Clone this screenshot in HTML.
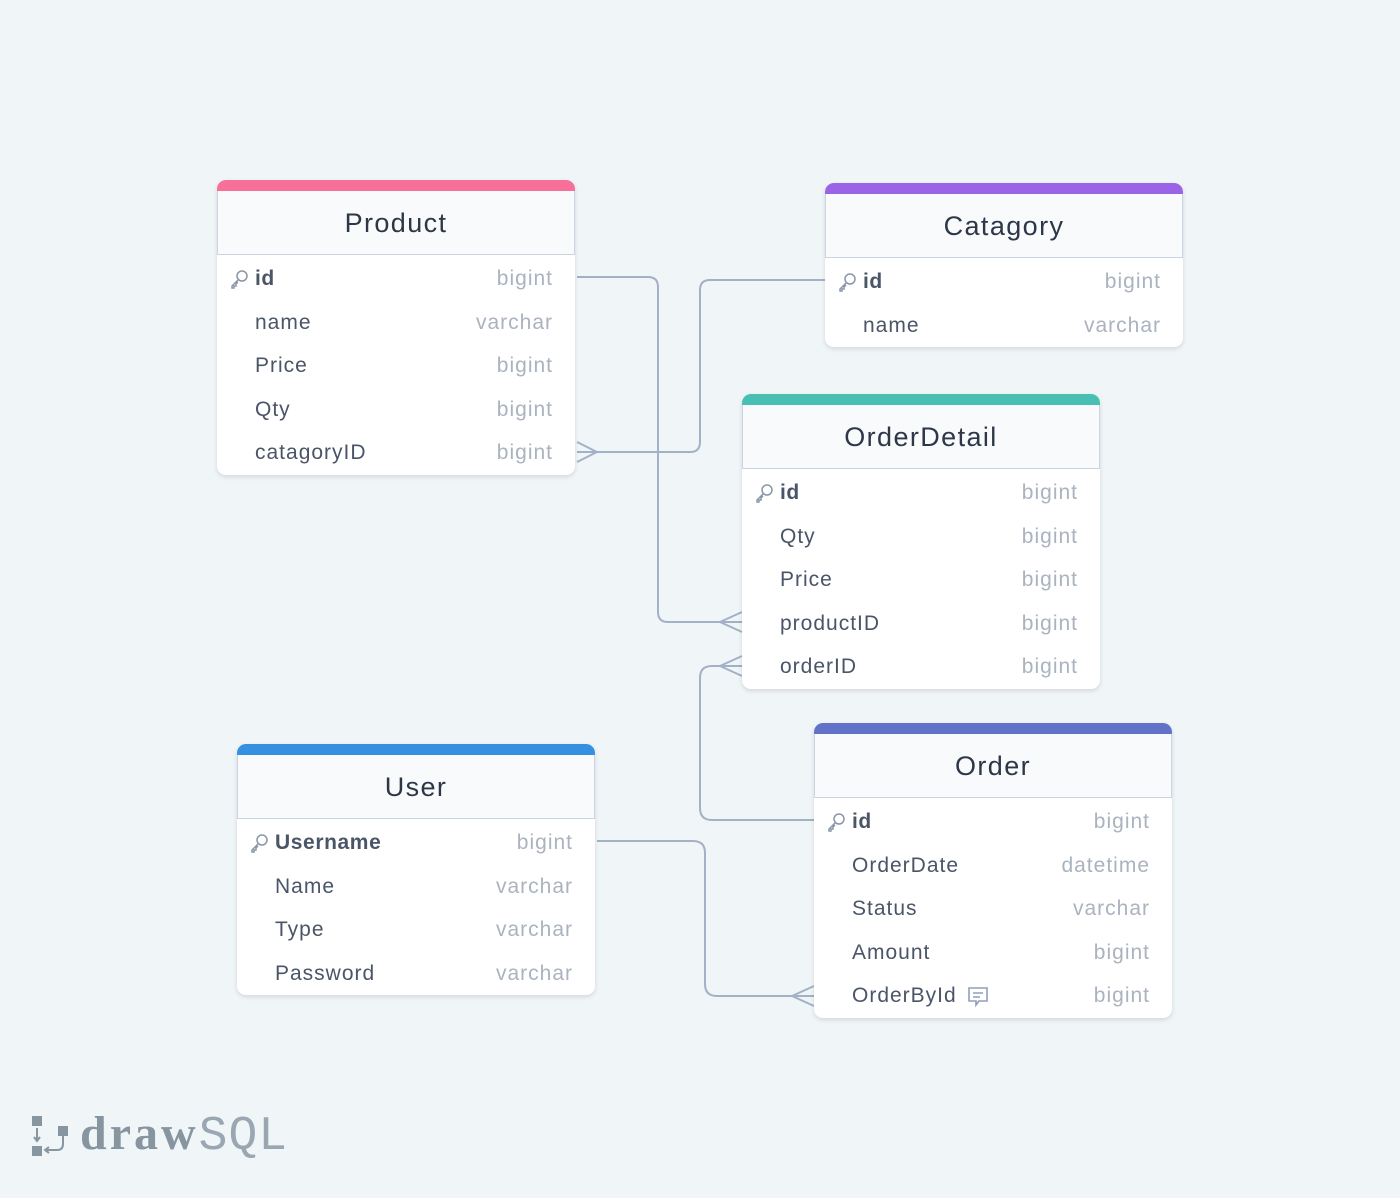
<!DOCTYPE html>
<html><head><meta charset="utf-8"><style>
body{margin:0;width:1400px;height:1198px;background:#f0f5f8;position:relative;overflow:hidden;font-family:"Liberation Sans",sans-serif}
.t{position:absolute;width:358px;background:#fff;border-radius:9px;box-shadow:0 2px 5px rgba(0,0,0,0.12);overflow:hidden}
.bar{height:11px}
.h{background:#f8fafc;border:1px solid #cbd5e1;border-top:none;box-sizing:border-box;height:64px;text-align:center;line-height:64px;font-size:27px;color:#2d3748;letter-spacing:1.4px}
.b{padding-top:2px}
.r{height:43.5px;line-height:43.5px;position:relative;font-size:21px;letter-spacing:1px}
.n{position:absolute;left:38px;color:#4a5568}
.ty{position:absolute;right:22px;color:#aab3bf}
.k{font-weight:bold;letter-spacing:0.6px}
.key{position:absolute;left:12px;top:12px}
svg.c{position:absolute;left:0;top:0}
</style></head><body>
<svg class="c" width="1400" height="1198" fill="none" stroke="#a3b1c6" stroke-width="2">
<path d="M577 277 H648 q10 0 10 10 V612 q0 10 10 10 H742"/>
<path d="M720 622 L742 612 M720 622 L742 632"/>
<path d="M825 280 H710 q-10 0 -10 10 V442 q0 10 -10 10 H577"/>
<path d="M597 452 L577 442 M597 452 L577 462"/>
<path d="M814 820 H712 q-12 0 -12 -12 V678 q0 -12 12 -12 H742"/>
<path d="M720 666 L742 656 M720 666 L742 676"/>
<path d="M597 841 H693 q12 0 12 12 V984 q0 12 12 12 H814"/>
<path d="M792 996 L814 986 M792 996 L814 1006"/>
</svg>

<div class="t" style="left:217px;top:180px">
<div class="bar" style="background:#f7709a"></div><div class="h">Product</div>
<div class="b">
<div class="r"><svg class="key" width="20" height="20" viewBox="0 0 20 20" fill="none" stroke="#8a96a8" stroke-width="1.5"><circle cx="13" cy="7" r="5"/><path d="M9.5 10.5 L3 17 V19 H5 V17 H7 V15 L9 13"/></svg><span class="n k">id</span><span class="ty">bigint</span></div>
<div class="r"><span class="n">name</span><span class="ty">varchar</span></div>
<div class="r"><span class="n">Price</span><span class="ty">bigint</span></div>
<div class="r"><span class="n">Qty</span><span class="ty">bigint</span></div>
<div class="r"><span class="n">catagoryID</span><span class="ty">bigint</span></div>
</div></div>

<div class="t" style="left:825px;top:183px">
<div class="bar" style="background:#9b63e6"></div><div class="h">Catagory</div>
<div class="b">
<div class="r"><svg class="key" width="20" height="20" viewBox="0 0 20 20" fill="none" stroke="#8a96a8" stroke-width="1.5"><circle cx="13" cy="7" r="5"/><path d="M9.5 10.5 L3 17 V19 H5 V17 H7 V15 L9 13"/></svg><span class="n k">id</span><span class="ty">bigint</span></div>
<div class="r"><span class="n">name</span><span class="ty">varchar</span></div>
</div></div>

<div class="t" style="left:742px;top:394px">
<div class="bar" style="background:#47c0b3"></div><div class="h">OrderDetail</div>
<div class="b">
<div class="r"><svg class="key" width="20" height="20" viewBox="0 0 20 20" fill="none" stroke="#8a96a8" stroke-width="1.5"><circle cx="13" cy="7" r="5"/><path d="M9.5 10.5 L3 17 V19 H5 V17 H7 V15 L9 13"/></svg><span class="n k">id</span><span class="ty">bigint</span></div>
<div class="r"><span class="n">Qty</span><span class="ty">bigint</span></div>
<div class="r"><span class="n">Price</span><span class="ty">bigint</span></div>
<div class="r"><span class="n">productID</span><span class="ty">bigint</span></div>
<div class="r"><span class="n">orderID</span><span class="ty">bigint</span></div>
</div></div>

<div class="t" style="left:814px;top:723px">
<div class="bar" style="background:#6372c9"></div><div class="h">Order</div>
<div class="b">
<div class="r"><svg class="key" width="20" height="20" viewBox="0 0 20 20" fill="none" stroke="#8a96a8" stroke-width="1.5"><circle cx="13" cy="7" r="5"/><path d="M9.5 10.5 L3 17 V19 H5 V17 H7 V15 L9 13"/></svg><span class="n k">id</span><span class="ty">bigint</span></div>
<div class="r"><span class="n">OrderDate</span><span class="ty">datetime</span></div>
<div class="r"><span class="n">Status</span><span class="ty">varchar</span></div>
<div class="r"><span class="n">Amount</span><span class="ty">bigint</span></div>
<div class="r"><span class="n">OrderById</span><svg style="position:absolute;left:152px;top:11px" width="24" height="24" viewBox="0 0 24 24" fill="none" stroke="#8fa0bb" stroke-width="1.6"><path d="M3 3 H21 V16 H13 L10 20 V16 H3 Z"/><path d="M7 8 H17 M7 12 H14"/></svg><span class="ty">bigint</span></div>
</div></div>

<div class="t" style="left:237px;top:744px">
<div class="bar" style="background:#3590e0"></div><div class="h">User</div>
<div class="b">
<div class="r"><svg class="key" width="20" height="20" viewBox="0 0 20 20" fill="none" stroke="#8a96a8" stroke-width="1.5"><circle cx="13" cy="7" r="5"/><path d="M9.5 10.5 L3 17 V19 H5 V17 H7 V15 L9 13"/></svg><span class="n k">Username</span><span class="ty">bigint</span></div>
<div class="r"><span class="n">Name</span><span class="ty">varchar</span></div>
<div class="r"><span class="n">Type</span><span class="ty">varchar</span></div>
<div class="r"><span class="n">Password</span><span class="ty">varchar</span></div>
</div></div>

<svg style="position:absolute;left:30px;top:1114px" width="42" height="44" viewBox="0 0 42 44">
<rect x="2" y="2" width="10" height="10" fill="#8795a1"/>
<rect x="2" y="32" width="10" height="10" fill="#8795a1"/>
<rect x="28" y="12" width="10" height="10" fill="#8795a1"/>
<path d="M7 14 V26 M4 23 L7 27 L10 23" stroke="#8795a1" stroke-width="2" fill="none"/>
<path d="M33 22 V30 q0 6 -6 6 H16 M19 33 L15 36 L19 39" stroke="#8795a1" stroke-width="2" fill="none"/>
</svg>
<div style="position:absolute;left:80px;top:1106px;font-size:48px;color:#8795a1;line-height:56px;white-space:nowrap"><span style="font-family:'Liberation Serif',serif;font-weight:bold;letter-spacing:3px">draw</span><span style="font-family:'Liberation Mono',monospace;font-weight:normal;color:#9aa6b2;letter-spacing:1px">SQL</span></div>
</body></html>
